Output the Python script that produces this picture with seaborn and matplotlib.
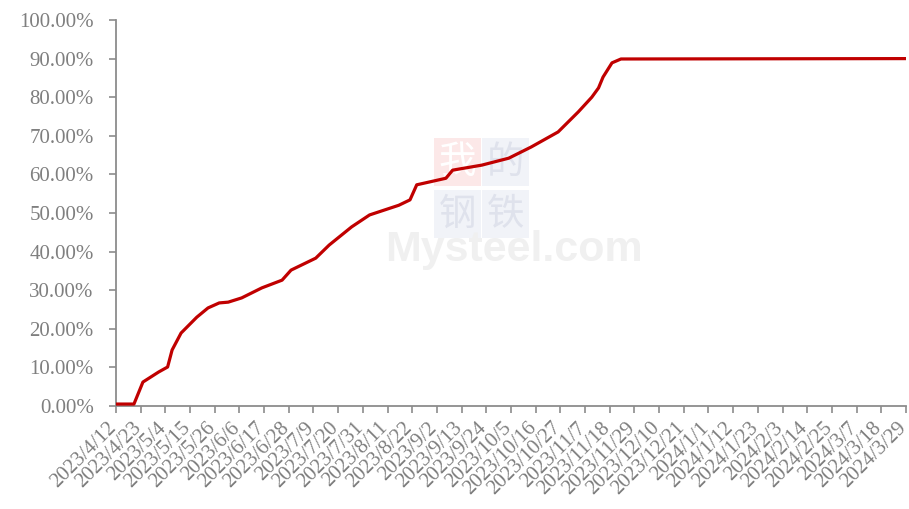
# -*- coding: utf-8 -*-
import matplotlib
matplotlib.use('Agg')
import matplotlib.pyplot as plt
import matplotlib.ticker as mticker
import matplotlib.transforms as mtransforms
import pandas as pd
import seaborn as sns

# ── Data ─────────────────────────────────────────────────────────────────────
dates = ['2023-04-12', '2023-04-20', '2023-04-24', '2023-05-01', '2023-05-05',
         '2023-05-07', '2023-05-11', '2023-05-18', '2023-05-23', '2023-05-28',
         '2023-06-01', '2023-06-07', '2023-06-16', '2023-06-25', '2023-06-29',
         '2023-07-10', '2023-07-16', '2023-07-26', '2023-08-03', '2023-08-16',
         '2023-08-21', '2023-08-24', '2023-09-06', '2023-09-09', '2023-09-22',
         '2023-10-04', '2023-10-14', '2023-10-26', '2023-11-04', '2023-11-10',
         '2023-11-13', '2023-11-15', '2023-11-19', '2023-11-23', '2024-03-29']
progress = [0.5, 0.5, 6.2, 8.8, 10.1,
            14.5, 18.9, 23.0, 25.4, 26.7,
            26.9, 28.0, 30.6, 32.6, 35.2,
            38.3, 41.7, 46.4, 49.5, 52.0,
            53.4, 57.3, 59.0, 61.1, 62.4,
            64.2, 67.1, 71.0, 76.2, 80.0,
            82.4, 85.2, 88.9, 89.9, 90.0]
tick_dates = pd.date_range('2023-04-12', '2024-03-29', freq='11D')
y_ticks = [0.0, 0.1, 0.2, 0.3, 0.4, 0.5, 0.6, 0.7, 0.8, 0.9, 1.0]

df = pd.DataFrame({'date': pd.to_datetime(dates), 'value': [v / 100 for v in progress]})

sns.set_style('white')
plt.rcParams['font.family'] = ['Liberation Serif', 'DejaVu Serif']

fig = plt.figure(figsize=(9.09, 5.09), dpi=100)
ax = fig.add_axes([0.1276, 0.2024, 0.8691, 0.7583])

# ── Watermark ─────────────────────────────────────────────────────────────────
logo = [('我', 0.432, 0.632, '#fce8e8', '#ffffff'),
        ('的', 0.493, 0.632, '#f1f3f8', '#dfe2ec'),
        ('钢', 0.432, 0.497, '#f1f3f8', '#dfe2ec'),
        ('铁', 0.493, 0.497, '#f1f3f8', '#dfe2ec')]
for ch, fx, fy, bg, fg in logo:
    ax.text(fx, fy, ch, transform=ax.transAxes, ha='center', va='center',
            fontsize=27, color=fg, family=['Noto Sans CJK SC'], zorder=0,
            bbox=dict(boxstyle='square,pad=0.12', fc=bg, ec='none'))
ax.text(0.504, 0.405, 'Mysteel.com', transform=ax.transAxes, ha='center', va='center',
        fontsize=31, fontweight='bold', color='#f0f0f0',
        family=['Liberation Sans Narrow', 'Liberation Sans'], zorder=0)

# ── Line ──────────────────────────────────────────────────────────────────────
sns.lineplot(data=df, x='date', y='value', ax=ax, color='#C00000', linewidth=2.3, zorder=3)

ax.set_xlim(tick_dates[0], tick_dates[-1])
ax.set_ylim(0, 1)
ax.set_xticks(tick_dates)
ax.set_xticklabels([f'{d.year}/{d.month}/{d.day}' for d in tick_dates],
                   rotation=45, ha='right', rotation_mode='anchor')
ax.set_yticks(y_ticks)
ax.yaxis.set_major_formatter(mticker.FuncFormatter(lambda v, p: f'{v * 100:.2f}%'))
ax.set_xlabel('')
ax.set_ylabel('')

for side in ['top', 'right']:
    ax.spines[side].set_visible(False)
for side in ['left', 'bottom']:
    ax.spines[side].set_color('#8c8c8c')
    ax.spines[side].set_linewidth(1.3)
ax.tick_params(axis='both', colors='#8c8c8c', labelcolor='#7f7f7f', labelsize=15,
               length=5, width=1.2, direction='out', bottom=True, left=True)
ax.tick_params(axis='x', pad=4)
ax.tick_params(axis='y', pad=11)

# nudge rotated date labels left so the last one stays inside the figure
shift = mtransforms.ScaledTranslation(-0.09, 0, fig.dpi_scale_trans)
for lbl in ax.get_xticklabels():
    lbl.set_transform(lbl.get_transform() + shift)

plt.savefig('out.png', dpi=100)
plt.close(fig)
